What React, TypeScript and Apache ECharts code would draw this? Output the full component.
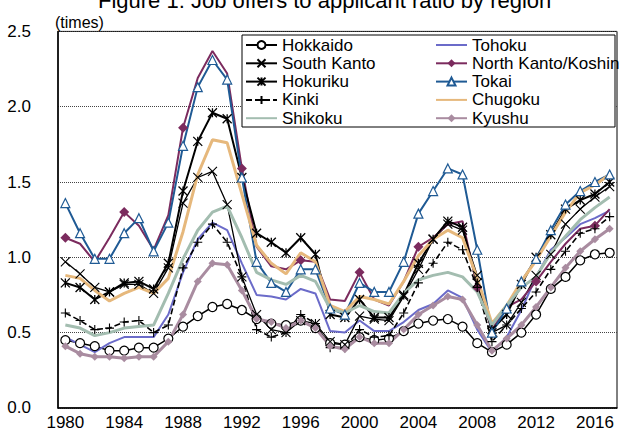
import React, { useEffect, useRef } from "react";
import * as echarts from "echarts";

const years = [
  "1980","1981","1982","1983","1984","1985","1986","1987","1988","1989",
  "1990","1991","1992","1993","1994","1995","1996","1997","1998","1999",
  "2000","2001","2002","2003","2004","2005","2006","2007","2008","2009",
  "2010","2011","2012","2013","2014","2015","2016","2017",
];

const hokkaido = [0.45,0.43,0.41,0.38,0.38,0.40,0.40,0.46,0.54,0.61, 0.67,0.69,0.65,0.59,0.56,0.55,0.58,0.53,0.43,0.42, 0.47,0.45,0.46,0.51,0.56,0.58,0.59,0.54,0.43,0.37, 0.42,0.50,0.62,0.79,0.87,0.98,1.02,1.03];
const tohoku = [0.47,0.42,0.37,0.43,0.47,0.47,0.47,0.62,0.90,1.12, 1.23,1.18,0.96,0.75,0.74,0.72,0.79,0.76,0.51,0.50, 0.58,0.51,0.51,0.57,0.65,0.69,0.78,0.73,0.52,0.37, 0.47,0.65,0.87,1.05,1.13,1.22,1.26,1.31];
const southKanto = [0.97,0.89,0.80,0.77,0.82,0.82,0.76,0.93,1.36,1.53, 1.57,1.35,0.87,0.62,0.52,0.50,0.58,0.56,0.44,0.42, 0.61,0.59,0.58,0.74,0.92,1.12,1.22,1.18,0.88,0.50, 0.55,0.70,0.88,1.02,1.22,1.32,1.40,1.47];
const northKanto = [1.13,1.09,0.97,1.13,1.30,1.21,1.05,1.28,1.86,2.19, 2.37,2.22,1.59,1.07,0.94,0.92,0.98,0.97,0.72,0.71, 0.90,0.72,0.68,0.84,1.07,1.13,1.22,1.24,0.80,0.52, 0.67,0.72,0.84,0.97,1.09,1.19,1.21,1.32];
const hokuriku = [0.83,0.80,0.72,0.77,0.83,0.84,0.79,0.96,1.44,1.77, 1.96,1.92,1.53,1.16,1.10,1.03,1.13,1.02,0.62,0.60, 0.72,0.60,0.60,0.75,0.96,1.12,1.24,1.20,0.83,0.52, 0.62,0.82,1.00,1.15,1.32,1.38,1.42,1.50];
const tokai = [1.36,1.16,0.99,0.99,1.16,1.26,1.04,1.23,1.74,2.13, 2.31,2.18,1.53,0.97,0.83,0.77,0.92,0.92,0.66,0.62, 0.83,0.77,0.77,0.97,1.29,1.44,1.59,1.55,1.05,0.50, 0.66,0.84,0.99,1.18,1.35,1.44,1.50,1.55];
const kinki = [0.63,0.58,0.52,0.53,0.57,0.58,0.50,0.55,0.93,1.10, 1.22,1.10,0.87,0.52,0.47,0.50,0.62,0.56,0.40,0.40, 0.52,0.47,0.48,0.63,0.83,0.96,1.10,1.05,0.80,0.44, 0.55,0.66,0.77,0.92,1.04,1.16,1.19,1.27];
const chugoku = [0.88,0.86,0.78,0.71,0.76,0.80,0.76,0.86,1.17,1.55, 1.78,1.76,1.42,1.08,0.96,0.89,1.03,0.97,0.68,0.64, 0.74,0.72,0.69,0.84,1.01,1.12,1.18,1.13,0.86,0.56, 0.68,0.84,0.98,1.14,1.30,1.43,1.48,1.55];
const shikoku = [0.55,0.53,0.48,0.50,0.53,0.54,0.55,0.76,0.99,1.18, 1.30,1.34,1.13,0.90,0.85,0.82,0.88,0.84,0.66,0.63, 0.68,0.64,0.63,0.76,0.85,0.88,0.90,0.87,0.77,0.55, 0.68,0.80,0.87,1.03,1.14,1.25,1.33,1.40];
const kyushu = [0.41,0.36,0.34,0.34,0.33,0.34,0.34,0.44,0.62,0.84, 0.96,0.95,0.78,0.59,0.57,0.53,0.58,0.53,0.41,0.39, 0.47,0.43,0.43,0.52,0.62,0.68,0.74,0.72,0.55,0.38, 0.46,0.55,0.67,0.80,0.93,1.04,1.12,1.19];

const legendLeft = ["Hokkaido", "South Kanto", "Hokuriku", "Kinki", "Shikoku"];
const legendRight = ["Tohoku", "North Kanto/Koshin", "Tokai", "Chugoku", "Kyushu"];
const plainLegend = ["Tohoku", "Chugoku", "Shikoku"];

const FONT = '"Liberation Sans", Arial, sans-serif';
const X_SYM = "path://M0 0L10 10M10 0L0 10";
const AST_SYM = "path://M0 0L10 10M10 0L0 10M5 0L5 10";
const PLUS_SYM = "path://M5 0L5 10M0 5L10 5";

export default function App() {
  const ref = useRef<HTMLDivElement>(null);
  useEffect(() => {
    if (!ref.current) return;
    const chart = echarts.init(ref.current, null, { renderer: "svg" });
    const line = (name: string, data: number[], extra: any) => ({
      name,
      type: "line",
      data,
      ...extra,
    });
    const legendData = (names: string[]) =>
      names.map((n) =>
        plainLegend.includes(n) ? { name: n, itemStyle: { opacity: 0 } } : { name: n }
      );
    const legendCommon = {
      orient: "vertical",
      top: 36,
      padding: 0,
      itemWidth: 31,
      itemHeight: 10,
      itemGap: 0.3,
      z: 100,
      selectedMode: false,
      textStyle: { fontSize: 17, fontFamily: FONT, color: "#000", lineHeight: 18 },
    };
    chart.setOption({
      animation: false,
      grid: {
        left: 58,
        right: 3,
        top: 31.4,
        bottom: 28.1,
        show: true,
        borderColor: "#000",
        borderWidth: 1,
      },
      xAxis: {
        type: "category",
        data: years,
        boundaryGap: true,
        axisLine: { lineStyle: { color: "#000", width: 1.5 } },
        axisTick: { inside: true, interval: 3, length: 5, lineStyle: { color: "#000" } },
        axisLabel: { interval: 3, color: "#000", fontSize: 17, fontFamily: FONT, margin: 6 },
      },
      yAxis: {
        type: "value",
        min: 0,
        max: 2.5,
        interval: 0.5,
        axisLine: { show: true, lineStyle: { color: "#000", width: 1.5 } },
        axisTick: { show: false },
        axisLabel: {
          formatter: (v: number) => v.toFixed(1),
          color: "#000",
          fontSize: 17,
          fontFamily: FONT,
          margin: 27,
        },
        splitLine: { lineStyle: { type: "dotted", color: "#444", width: 1 } },
      },
      legend: [
        { ...legendCommon, left: 245, data: legendData(legendLeft) },
        { ...legendCommon, left: 435, data: legendData(legendRight) },
      ],
      graphic: [
        {
          type: "rect",
          z: 50,
          shape: { x: 242, y: 35, width: 373, height: 92 },
          style: { fill: "#fff", stroke: "#000", lineWidth: 1 },
        },
        {
          type: "text",
          x: 98,
          y: 11,
          z: 50,
          style: {
            text: "Figure 1: Job offers to applicant ratio by region",
            font: `22px ${FONT}`,
            fill: "#000",
            verticalAlign: "bottom",
          },
        },
        {
          type: "text",
          x: 55,
          y: 14,
          z: 50,
          style: { text: "(times)", font: `16px ${FONT}`, fill: "#000", verticalAlign: "top" },
        },
      ],
      series: [
        line("Hokkaido", hokkaido, {
          symbol: "circle",
          symbolSize: 9,
          itemStyle: { color: "#fff", borderColor: "#000", borderWidth: 1.2 },
          lineStyle: { color: "#000", width: 1.5 },
        }),
        line("Tohoku", tohoku, {
          symbol: "none",
          itemStyle: { color: "#6B6BC9" },
          lineStyle: { color: "#6B6BC9", width: 2 },
        }),
        line("South Kanto", southKanto, {
          symbol: X_SYM,
          symbolSize: 9,
          itemStyle: { color: "#000", borderColor: "#000", borderWidth: 1.1 },
          lineStyle: { color: "#000", width: 1.3 },
        }),
        line("North Kanto/Koshin", northKanto, {
          symbol: "diamond",
          symbolSize: 10,
          itemStyle: { color: "#7B2B5E" },
          lineStyle: { color: "#7B2B5E", width: 2 },
        }),
        line("Hokuriku", hokuriku, {
          symbol: AST_SYM,
          symbolSize: 9,
          itemStyle: { color: "#000", borderColor: "#000", borderWidth: 1.3 },
          lineStyle: { color: "#000", width: 2 },
        }),
        line("Tokai", tokai, {
          symbol: "triangle",
          symbolSize: 9,
          itemStyle: { color: "#fff", borderColor: "#1F5A94", borderWidth: 1.2 },
          lineStyle: { color: "#1F5A94", width: 2 },
        }),
        line("Kinki", kinki, {
          symbol: PLUS_SYM,
          symbolSize: 9,
          itemStyle: { color: "#000", borderColor: "#000", borderWidth: 1.1 },
          lineStyle: { color: "#000", width: 1.6, type: [6, 3] },
        }),
        line("Chugoku", chugoku, {
          symbol: "none",
          itemStyle: { color: "#E6B87C" },
          lineStyle: { color: "#E6B87C", width: 3 },
        }),
        line("Shikoku", shikoku, {
          symbol: "none",
          itemStyle: { color: "#A3BDB0" },
          lineStyle: { color: "#A3BDB0", width: 3 },
        }),
        line("Kyushu", kyushu, {
          symbol: "diamond",
          symbolSize: 8,
          itemStyle: { color: "#A98CA0" },
          lineStyle: { color: "#A98CA0", width: 3 },
        }),
      ],
    });
    return () => chart.dispose();
  }, []);
  return (
    <div
      ref={ref}
      style={{ position: "fixed", left: 0, top: 0, width: 620, height: 436, background: "#fff" }}
    />
  );
}
